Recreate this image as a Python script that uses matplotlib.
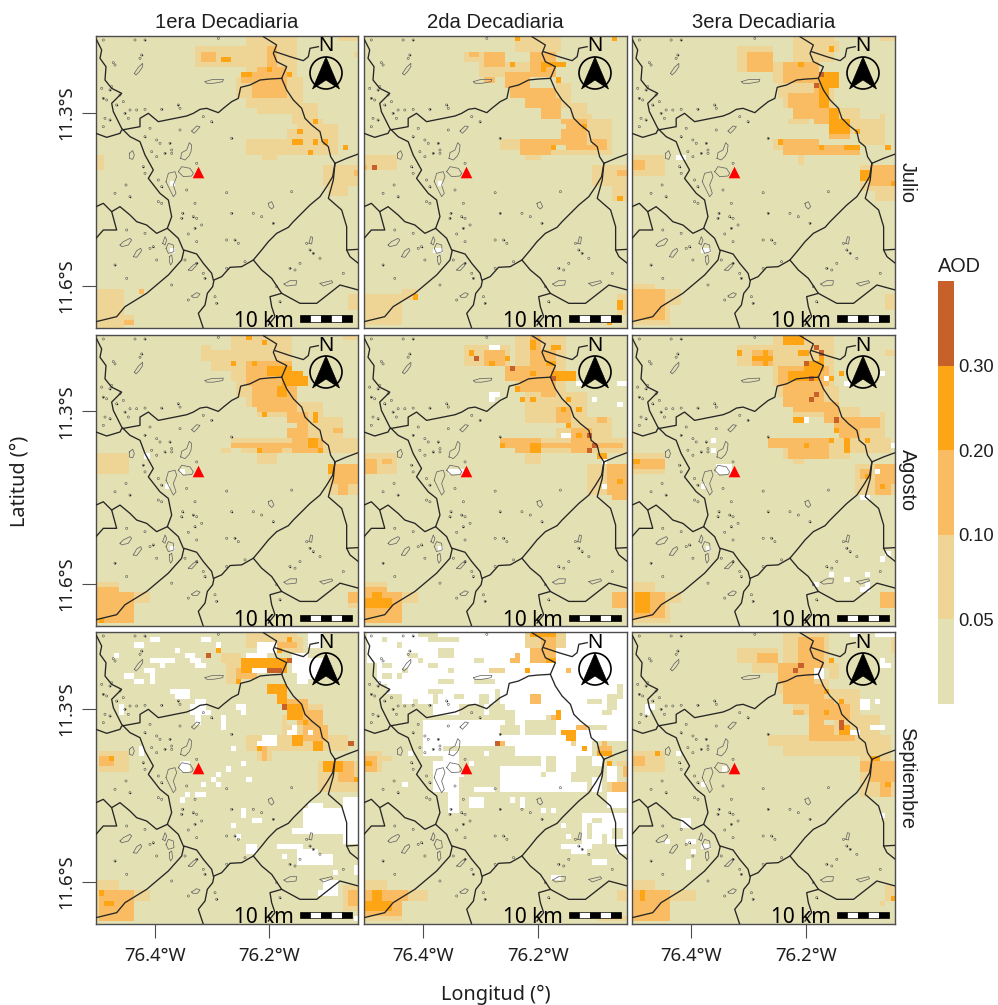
import numpy as np
import matplotlib
matplotlib.use("Agg")
import matplotlib.pyplot as plt
from matplotlib.colors import ListedColormap, BoundaryNorm
from matplotlib.colorbar import ColorbarBase
from matplotlib.patches import Polygon, Circle, Rectangle
from matplotlib.transforms import Affine2D

# ---- data ------------------------------------------------------------
DECADES = ["1era Decadiaria", "2da Decadiaria", "3era Decadiaria"]
MONTHS = ["Julio", "Agosto", "Septiembre"]
AOD_BOUNDS = [0.0, 0.05, 0.10, 0.20, 0.30, 0.40]
AOD_TICKS = [0.05, 0.10, 0.20, 0.30]
AOD_COLORS = ["#e3e0b3", "#eed596", "#f9bc62", "#fda514", "#c8602a"]
CLASS_VALUE = [0.03, 0.07, 0.15, 0.25, 0.35]
LON_TICKS = [-76.4, -76.2]
LON_LABELS = ["76.4°W", "76.2°W"]
LAT_TICKS = [-11.6, -11.3]
LAT_LABELS = ["11.6°S", "11.3°S"]

# AOD class regions on the 0.009 degree raster: (class, x0, x1, y0, y1), map units; class 9 = no data
JUL_1 = [(1,315,480,50,110),(1,470,620,20,135),(1,745,805,20,32),(1,790,805,65,80),(1,440,640,135,250),(1,600,680,220,290),
 (1,620,705,270,310),(1,590,750,280,375),(1,470,600,330,375),(1,515,560,375,390),(1,700,805,400,470),(1,715,780,470,495),
 (1,18,45,375,420),(1,18,100,780,895),(1,100,130,855,885),(1,775,805,790,840),
 (2,330,378,65,95),(2,495,590,110,150),(2,530,560,45,110),(2,450,500,125,150),(2,490,590,160,210),(2,100,130,870,885),(2,145,160,780,795),(2,790,805,420,435),
 (3,393,423,80,95),(3,455,485,125,140),(3,530,545,110,125),(3,590,605,125,140),(3,665,680,265,280),(3,620,635,297,312),(3,605,635,328,343),
 (3,665,680,328,343),(3,700,712,328,343),(3,650,665,360,375),(3,758,773,343,358),(9,238,250,452,467),(9,238,255,655,670)]
JUL_2 = [(1,310,440,65,95),(1,360,480,95,140),(1,465,600,20,65),(1,465,540,95,125),(1,585,640,155,230),(1,640,680,220,300),(1,680,755,250,370),
 (1,420,480,330,360),(1,480,700,360,375),(1,495,545,375,390),(1,13,110,375,420),(1,690,800,400,470),(1,755,800,470,515),(1,13,130,795,890),(1,130,175,780,810),(1,770,800,790,850),
 (2,325,360,65,80),(2,375,440,65,110),(2,510,590,65,140),(2,430,510,125,170),(2,445,590,170,205),(2,495,600,205,235),(2,540,605,235,265),(2,600,680,265,340),
 (2,620,700,340,360),(2,480,575,335,375),(2,575,640,325,345),(2,700,740,330,360),(2,770,800,420,435),(2,13,25,405,420),(2,370,400,145,160),
 (3,445,460,95,110),(3,540,555,95,125),(3,555,615,95,110),(3,585,600,140,155),(3,570,585,342,358),(3,665,678,282,296),(3,770,785,815,840),(3,770,785,500,515),
 (3,755,770,20,30),(3,155,170,795,805),(3,740,755,878,888),(3,465,480,20,30),(4,35,50,405,420),(9,233,246,452,467),(9,220,248,655,670)]
JUL_3 = [(1,325,440,50,125),(1,430,540,95,150),(1,500,620,20,100),(1,590,640,40,65),(1,760,800,25,35),(1,445,620,165,260),(1,480,540,260,275),(1,620,700,230,320),
 (1,700,770,250,345),(1,435,520,325,380),(1,510,700,360,375),(1,510,525,375,405),(1,14,110,375,435),(1,695,800,400,485),(1,735,800,470,510),(1,14,160,765,890),(1,775,800,795,840),
 (2,360,435,65,125),(2,465,570,95,150),(2,570,620,130,170),(2,480,570,185,260),(2,560,610,180,280),(2,600,665,280,330),(2,465,570,330,375),(2,570,700,340,375),
 (2,14,55,395,420),(2,14,110,780,875),(2,730,800,405,470),
 (3,510,525,95,110),(3,575,630,125,170),(3,570,600,170,240),(3,600,630,240,310),(3,630,660,260,310),(3,645,700,340,358),(3,445,460,330,343),(3,570,585,342,358),
 (3,770,785,342,358),(3,695,725,420,450),(3,785,800,452,467),(3,600,615,50,60),(3,675,690,295,310),(4,555,570,157,172),(4,570,585,125,140),(9,143,172,375,388),(9,220,248,655,668)]
AUG_1 = [(1,330,360,45,90),(1,360,470,60,130),(1,420,610,14,150),(1,440,620,130,260),(1,620,700,210,320),(1,700,760,260,320),(1,420,800,320,370),(1,395,420,350,365),
 (1,500,560,370,400),(1,710,800,400,490),(1,18,115,370,430),(1,18,175,755,885),(1,780,805,790,840),(1,760,805,14,25),
 (2,470,605,85,170),(2,480,620,170,240),(2,590,650,240,320),(2,420,600,335,350),(2,600,700,320,365),(2,520,580,350,370),(2,735,800,400,460),(2,740,775,460,490),
 (2,18,130,775,885),(2,728,760,290,305),(2,780,805,795,820),
 (3,530,605,100,135),(3,575,635,120,165),(3,560,590,165,195),(3,635,650,135,165),(3,425,437,88,103),(3,483,498,88,103),(3,515,530,25,40),(3,470,485,14,25),(3,515,530,243,258),
 (3,665,680,245,275),(3,650,682,320,350),(3,680,700,350,365),(3,500,515,350,365),(3,715,730,400,430),(3,20,40,865,885),
 (9,165,178,368,380),(9,270,285,415,430),(9,225,240,465,477),(9,238,255,650,662)]
AUG_2 = [(1,310,445,45,105),(1,460,610,14,190),(1,500,600,190,275),(1,600,680,180,260),(1,590,760,260,330),(1,420,800,320,370),(1,495,545,370,395),(1,680,800,400,490),
 (1,13,110,375,430),(1,13,175,755,885),(1,750,800,790,835),
 (2,370,440,60,105),(2,440,510,105,150),(2,510,545,20,60),(2,510,590,60,120),(2,480,570,120,190),(2,540,590,150,200),(2,590,640,235,300),(2,640,700,300,370),(2,420,700,335,355),
 (2,420,540,320,370),(2,700,780,340,355),(2,710,735,260,275),(2,13,50,385,430),(2,65,95,385,400),(2,13,130,770,885),(2,740,800,400,500),(2,755,800,470,505),(2,755,800,790,835),
 (3,510,525,25,60),(3,570,600,45,60),(3,560,585,85,105),(3,570,650,120,150),(3,325,340,60,72),(3,385,400,88,103),(3,430,445,72,88),(3,510,525,120,135),(3,465,480,165,180),
 (3,480,495,197,212),(3,510,525,197,212),(3,600,615,228,243),(3,615,630,197,212),(3,645,660,228,243),(3,615,630,275,290),(3,645,660,305,320),(3,510,540,340,370),(3,420,432,337,352),
 (3,710,735,368,385),(3,770,785,445,460),(3,13,90,805,835),(3,35,65,790,805),
 (4,340,355,72,88),(4,447,462,103,118),(4,570,585,135,148),(4,677,692,305,320),(4,677,692,352,368),(4,695,705,338,350),
 (9,388,418,42,55),(9,388,418,182,197),(9,388,400,197,212),(9,600,632,305,320),(9,645,662,150,165),(9,693,708,197,212),(9,768,798,150,165),(9,768,783,212,228),(9,725,738,385,395),
 (9,725,738,462,478),(9,265,305,413,430),(9,235,250,650,662)]
AUG_3 = [(1,325,450,50,105),(1,440,615,14,165),(1,450,630,165,260),(1,630,700,230,320),(1,700,770,245,350),(1,415,660,320,380),(1,660,790,320,365),(1,500,530,380,395),(1,680,800,400,495),
 (1,14,110,370,430),(1,14,160,755,885),(1,755,800,785,835),(1,770,800,55,70),
 (2,370,430,65,100),(2,450,600,100,170),(2,470,590,165,240),(2,590,640,220,300),(2,415,610,320,350),(2,480,600,350,380),(2,640,690,260,320),(2,700,750,245,290),(2,735,800,400,470),
 (2,740,790,470,490),(2,14,110,385,415),(2,14,110,790,870),(2,755,800,785,835),(2,700,730,415,445),
 (3,325,340,57,72),(3,400,420,57,72),(3,370,430,72,88),(3,400,415,88,103),(3,465,530,14,40),(3,510,540,57,72),(3,525,585,88,120),(3,480,570,120,150),(3,570,585,72,100),(3,600,615,135,150),
 (3,630,645,120,135),(3,495,525,260,275),(3,530,545,340,352),(3,600,615,320,335),(3,650,665,320,365),(3,710,725,320,335),(3,14,35,385,400),(3,20,75,790,855),(3,755,770,462,477),
 (3,710,725,430,445),(3,615,630,290,305),
 (4,525,540,88,103),(4,540,555,135,150),(4,555,570,180,195),(4,540,555,197,212),(4,617,632,260,275),(4,557,570,40,55),(4,570,585,57,72),
 (9,588,600,135,150),(9,648,663,150,165),(9,755,770,120,135),(9,525,540,260,275),(9,250,265,322,337),(9,250,265,352,367),(9,265,305,405,430),(9,220,235,462,477),(9,738,752,415,430),
 (9,785,800,338,352),(9,693,722,492,507),(9,235,250,650,662),(9,755,770,680,695),(9,770,785,665,678),(9,600,615,727,742),(9,645,662,742,757),(9,708,722,727,742),(9,708,722,757,788),
 (9,693,708,772,788),(9,555,570,757,772)]
SEP_1 = [(1,470,630,14,60),(1,560,640,30,75),(1,640,700,225,320),(1,700,745,240,260),(1,470,780,320,370),(1,580,700,260,340),(1,500,540,370,400),(1,20,115,370,430),(1,690,805,400,500),
 (1,18,180,755,885),(1,760,805,780,850),(1,405,450,70,165),(1,390,405,70,100),
 (2,660,695,240,290),(2,590,650,220,300),(2,510,530,350,400),(2,20,75,385,415),(2,20,140,790,880),(2,740,790,400,470),(2,770,805,790,830),(2,640,720,290,340),(2,560,620,40,60),(2,440,500,115,150),
 (3,455,590,90,135),(3,530,590,165,200),(3,560,590,200,225),(3,590,635,230,270),(3,635,650,270,300),(3,605,635,320,350),(3,670,705,335,365),(3,695,760,400,430),(3,380,392,58,72),
 (3,440,450,150,165),(3,560,580,55,72),(3,590,605,25,40),(3,605,620,120,135),(3,55,70,385,400),(3,20,40,790,805),(3,40,70,820,835),(3,500,515,350,365),(3,790,805,445,460),(3,20,70,880,888),
 (4,345,360,72,88),(4,530,575,120,135),(4,590,605,88,103),(4,575,590,228,243),(4,773,788,337,352),
 (9,130,160,42,57),(9,180,210,25,40),(9,180,195,40,50),(9,330,360,25,40),(9,375,390,42,57),(9,255,270,57,72),(9,70,85,72,85),(9,180,255,88,103),(9,285,315,72,88),(9,300,330,88,103),
 (9,315,345,105,118),(9,210,225,103,118),(9,165,195,118,133),(9,100,130,135,148),(9,130,160,150,165),(9,180,192,135,165),(9,240,300,182,197),(9,255,300,197,212),(9,315,345,212,228),
 (9,300,345,228,243),(9,440,465,228,243),(9,450,465,243,258),(9,300,360,243,258),(9,315,330,258,288),(9,390,405,258,303),(9,85,100,228,258),(9,470,530,72,88),(9,500,560,40,72),
 (9,485,530,118,133),(9,600,650,72,135),(9,650,700,88,150),(9,650,700,14,60),(9,625,650,135,165),(9,520,560,320,350),(9,500,530,335,350),(9,590,620,305,320),(9,605,630,290,305),
 (9,650,665,305,320),(9,420,435,352,367),(9,405,420,415,430),(9,450,465,400,415),(9,375,390,430,445),(9,360,375,445,460),(9,375,390,460,475),(9,330,345,462,477),(9,467,482,445,460),
 (9,315,345,492,507),(9,285,300,492,507),(9,270,285,508,523),(9,452,467,540,570),(9,485,515,570,585),(9,420,435,585,600),(9,435,450,615,630),(9,467,497,650,680),(9,650,700,525,540),
 (9,635,765,540,600),(9,765,805,510,650),(9,605,680,600,615),(9,680,760,600,620),(9,560,640,648,663),(9,620,690,665,710),(9,690,725,680,710),(9,575,590,680,695),(9,785,805,710,740),
 (9,730,745,725,740),(9,700,745,755,800),(9,680,715,785,810),(9,790,805,860,885),(9,150,165,350,380),(9,268,305,405,430)]
SEP_2 = [(9,20,520,14,230),(9,130,450,230,260),(9,520,800,100,200),(9,580,800,14,345),(9,450,720,200,270),(9,190,700,270,380),(9,380,720,380,420),(9,420,680,420,500),(9,660,800,560,650),
 (0,13,50,100,260),(0,50,80,165,260),(0,80,130,200,260),(0,13,150,260,400),(0,150,190,260,300),(0,65,80,25,45),(0,110,125,40,57),(0,205,300,25,42),(0,175,230,14,30),(0,235,285,57,88),
 (0,145,175,72,88),(0,175,195,88,103),(0,200,235,103,118),(0,70,100,103,118),(0,125,145,118,133),(0,265,285,118,133),(0,335,365,88,105),(0,65,95,135,150),(0,110,125,135,150),
 (0,235,280,150,165),(0,335,400,150,165),(0,205,250,182,197),(0,280,310,197,212),(0,350,365,195,230),(0,370,385,197,228),(0,220,235,197,228),(0,155,175,212,228),(0,400,420,180,228),
 (0,130,220,228,272),(0,295,380,228,265),(0,385,430,230,260),(0,415,460,245,270),(0,430,460,270,290),(0,500,590,275,320),(0,560,590,260,275),(0,525,555,320,330),(0,420,480,290,320),
 (0,370,460,350,420),(0,250,420,350,490),(0,430,540,380,420),(0,540,560,430,445),(0,560,590,385,430),(0,650,700,385,430),(0,630,690,440,460),(0,680,735,290,305),(0,680,720,220,235),
 (0,740,770,200,240),(0,770,785,170,215),(0,720,750,250,265),(0,480,510,500,520),
 (9,145,160,372,387),(9,130,145,462,477),(9,300,315,440,455),(9,330,345,400,415),(9,370,385,370,385),(9,250,300,370,400),(9,220,300,400,490),(9,265,295,490,550),(9,340,400,475,490),
 (9,320,370,510,535),(9,575,590,540,555),(9,540,555,540,555),(9,450,465,505,520),(9,480,495,510,535),(9,740,770,415,460),(9,690,720,450,490),(9,740,800,500,545),(9,600,615,590,600),
 (9,615,640,618,632),(9,600,690,650,665),(9,632,680,665,680),(9,690,738,695,710),(9,575,600,742,757),(9,770,800,650,680),(9,740,755,600,615),
 (0,700,730,570,590),(0,750,780,610,640),(0,680,700,590,640),(0,720,740,620,650),
 (1,495,615,14,60),(2,510,590,55,110),(3,510,585,14,30),(2,545,585,30,60),(2,615,630,120,133),(2,450,480,88,103),(2,465,480,72,88),(3,555,585,88,103),(1,390,430,118,135),(3,495,510,118,133),
 (2,510,540,197,228),(3,585,600,243,273),(2,570,585,258,273),(3,600,645,305,322),(3,615,645,322,338),(2,645,680,290,305),(1,632,645,338,350),(4,403,417,337,352),(2,417,432,337,352),
 (3,660,675,352,367),(2,720,735,337,367),(2,708,750,352,367),(3,708,752,367,382),(3,738,752,400,415),(1,770,800,400,415),(1,740,800,460,500),(2,755,800,462,490),(2,785,800,415,445),
 (1,770,800,785,820),(1,13,65,368,430),(2,13,50,385,430),(3,13,35,400,415),(1,65,95,385,400),(1,13,200,755,885),(2,13,140,785,865),(3,30,70,790,850),(3,13,90,820,850),(1,710,800,870,885)]
SEP_3 = [(1,330,450,55,110),(1,380,470,100,135),(1,465,610,14,125),(1,600,640,100,150),(1,445,610,150,260),(1,610,700,180,320),(1,700,760,245,340),(1,420,700,320,380),(1,700,780,320,400),
 (1,490,550,365,380),(1,695,800,400,505),(1,14,110,368,430),(1,14,200,755,885),(1,755,770,820,832),(1,785,800,25,70),(1,770,800,770,820),
 (2,390,450,72,103),(2,450,560,103,165),(2,510,590,30,130),(2,470,590,165,230),(2,545,620,210,320),(2,495,525,243,258),(2,540,600,305,335),(2,600,680,320,345),(2,14,50,385,415),
 (2,730,800,400,470),(2,755,785,470,505),(2,14,130,785,880),(2,620,660,230,280),(2,700,730,395,430),
 (3,600,615,88,103),(3,590,600,180,195),(3,632,647,212,228),(3,585,600,243,258),(3,632,662,305,320),(3,650,665,290,305),(3,82,97,368,383),(3,35,50,790,820),(3,785,800,805,820),
 (3,770,785,462,477),(3,725,755,385,400),(4,510,525,103,118),(4,495,510,118,133),(4,632,647,275,305),
 (9,660,690,14,25),(9,740,800,14,25),(9,755,770,88,103),(9,755,785,103,118),(9,555,585,118,150),(9,693,722,212,243),(9,740,755,212,228),(9,725,770,290,305),(9,662,690,305,320),
 (9,50,65,228,258),(9,65,80,228,243),(9,143,158,368,383),(9,280,298,415,430),(9,220,235,462,477),(9,755,770,555,570),(9,160,190,575,600),(9,175,205,632,647),(9,115,130,632,647),
 (9,190,205,665,680),(9,175,190,695,727),(9,225,248,650,662)]
# low-AOD areas the plume edges do not reach in any panel: (x0, x1, y0, y1)
PLUME_EDGES = [(430,470,205,265),(430,500,235,265),(85,205,750,782),(135,205,825,895),(590,620,282,298),(700,760,250,265),(420,460,355,380)]

# map vector layers, same local map units
ROADS = [
 [(20,30),(35,60),(30,85),(48,110),(45,150),(65,175),(95,190),(65,220),(70,245),(95,295),(120,320),(150,335),(165,375),(190,420),(175,445),(210,490),(235,510),(245,560),(232,595),(265,625),(280,660)],
 [(18,310),(50,322),(90,310),(95,300),(150,290),(150,265),(175,250),(205,275),(240,268),(290,258),(310,250),(330,238),(350,235),(385,248),(400,235),(425,215),(445,205),(452,172),(480,165),(510,150),(540,147),(575,145)],
 [(520,20),(560,45),(550,70),(560,95),(590,110),(575,145)],
 [(555,65),(600,80),(640,92),(655,80),(660,55),(685,50)],
 [(575,145),(590,180),(610,210),(635,235),(645,265),(665,285),(690,305),(697,335),(715,350),(722,380),(735,400)],
 [(735,400),(770,385),(805,372)],
 [(735,400),(728,440),(710,470),(690,500),(660,525),(630,555),(610,575),(595,592),(560,610),(535,635),(515,660),(490,690),(455,710),(420,712),(395,740),(372,750),(368,770),(352,790),(345,825),(325,850),(340,895)],
 [(735,400),(730,450),(715,505),(755,540),(770,590),(770,660),(805,658)],
 [(770,660),(780,680),(805,700)],
 [(490,690),(515,720),(545,745),(575,790),(630,820),(680,820),(750,765),(805,780)],
 [(575,790),(540,800),(545,830),(555,860),(535,885)],
 [(18,875),(80,860),(105,830),(170,790),(235,735),(275,690),(282,660),(320,672),(340,700),(365,730),(370,750)],
 [(18,530),(40,520),(65,545),(90,530),(120,555),(140,575),(170,585),(200,610),(232,595)],
 [(65,545),(80,600),(70,600),(40,600),(18,625)],
]
LAKES = [
 [(345,155),(365,149),(400,148),(398,155),(370,160),(350,160)],
 [(133,130),(145,112),(158,100),(158,110),(148,125),(138,135)],
 [(272,385),(275,368),(290,360),(298,338),(305,345),(303,365),(297,378),(285,390)],
 [(265,425),(275,410),(300,415),(310,430),(305,438),(280,440)],
 [(228,455),(235,430),(255,425),(260,440),(250,465),(258,490),(250,500),(240,480)],
 [(305,303),(320,288),(330,290),(322,300),(312,310)],
 [(90,645),(100,635),(120,625),(125,630),(115,645),(95,650)],
 [(130,680),(140,662),(152,655),(155,662),(140,682)],
 [(238,680),(245,675),(248,695),(242,705),(238,695)],
 [(228,655),(235,640),(250,645),(252,665),(235,670)],
 [(582,762),(600,752),(620,752),(618,765),(590,768)],
 [(690,760),(725,752),(728,758),(700,768)],
 [(118,370),(128,362),(133,375),(128,388),(118,385)],
 [(535,520),(545,515),(552,530),(545,537),(537,530)],
 [(218,640),(225,620),(230,630),(225,645)],
 [(657,640),(662,620),(668,622),(665,642)],
 [(295,720),(310,705),(322,698),(318,708),(305,722)],
 [(305,798),(320,788),(330,792),(322,802),(308,802)],
]
PONDS_X = [40,50,45,60,40,120,105,140,165,215,75,70,155,150,135,165,35,65,60,90,100,80,115,180,165,200,210,240,245,185,225,200,245,160,165,205,215,75,108,120,215,205,278,290,315,310,320,335,315,295,320,365,340,270,265,270,410,425,490,515,550,605,410,435,445,320,275,110,165,190,180,200,75,110,245,345,340,285,320,295,375,380,465,410,600,615,630,670,690,650,660,760,560,570,385,40,425]
PONDS_Y = [205,210,265,270,290,240,250,240,238,238,105,98,75,85,30,30,175,170,180,195,215,225,265,295,320,330,340,340,360,365,370,380,370,410,430,450,470,490,465,500,520,515,550,480,520,560,565,585,595,612,635,275,260,300,225,235,488,550,550,560,580,485,630,630,640,400,565,600,610,650,655,690,705,745,765,745,730,690,700,810,800,820,695,715,715,720,700,670,685,640,660,730,770,815,25,30,325]
STATION_X = [323]
STATION_Y = [427]

PANELS = [[JUL_1, JUL_2, JUL_3], [AUG_1, AUG_2, AUG_3], [SEP_1, SEP_2, SEP_3]]
ORIGIN_X = [18, 13, 14]      # where each column's region coordinates start
ORIGIN_Y = [18, 14, 14]

# ---- layout ----------------------------------------------------------
W, H = 998, 1005
COL_PX = [(96, 358), (364, 627), (632, 895)]
ROW_PX = [(36, 328), (335, 626), (632, 924)]
LON_W, KX = -76.5035, 1 / 3 / 570.0
LAT_N, KY = -11.1673, 1 / 3 / 577.8
LON_E = LON_W + 262 / 570.0
LAT_S = LAT_N - 292 / 577.8
FS, FT = "Noto Sans", "Liberation Sans"
INK = "#1f1f1f"


def lon(x):
    return LON_W + (np.asarray(x, float) - 18) * KX


def lat(y):
    return LAT_N - (np.asarray(y, float) - 18) * KY


def raster(regions, ox, oy):
    nx, ny = 53, 58
    cx = ox + 15.3 * np.arange(nx)
    cy = oy + 15.5 * (np.arange(ny) + 0.5)
    grid = np.full((ny, nx), CLASS_VALUE[0])
    for cls, x0, x1, y0, y1 in regions:
        mx = (cx >= x0) & (cx < x1)
        my = (cy >= y0) & (cy < y1)
        grid[np.ix_(my, mx)] = np.nan if cls == 9 else CLASS_VALUE[cls]
    for x0, x1, y0, y1 in PLUME_EDGES:
        mx = (cx >= x0) & (cx < x1)
        my = (cy >= y0) & (cy < y1)
        sub = grid[np.ix_(my, mx)]
        sub[(sub == CLASS_VALUE[1]) | (sub == CLASS_VALUE[2])] = CLASS_VALUE[0]
        grid[np.ix_(my, mx)] = sub
    return grid


cmap = ListedColormap(AOD_COLORS)
norm = BoundaryNorm(AOD_BOUNDS, cmap.N)
xe = LON_W + (-7.6 + 15.3 * np.arange(54)) * KX
ye = LAT_N - 15.5 * np.arange(59) * KY

fig = plt.figure(figsize=(W / 100, H / 100), dpi=100, facecolor="white")

for r, (top, bot) in enumerate(ROW_PX):
    for c, (lft, rgt) in enumerate(COL_PX):
        ax = fig.add_axes([lft / W, 1 - bot / H, (rgt - lft) / W, (bot - top) / H])
        pw, ph = rgt - lft, bot - top
        ax.pcolormesh(xe, ye, np.ma.masked_invalid(raster(PANELS[r][c], ORIGIN_X[c], ORIGIN_Y[r])),
                      cmap=cmap, norm=norm, shading="flat", zorder=1)
        for lake in LAKES:
            pts = np.array(lake + lake[:1])
            ax.plot(lon(pts[:, 0]), lat(pts[:, 1]), color="#666666", lw=0.55, zorder=2)
        ax.scatter(lon(PONDS_X), lat(PONDS_Y), s=2.4, facecolors="none", edgecolors="#555555", linewidths=0.4, zorder=2)
        ax.scatter(lon(PONDS_X[::3]), lat(PONDS_Y[::3]), s=1.0, color="#222222", linewidths=0, zorder=2)
        for road in ROADS:
            pts = np.array(road)
            ax.plot(lon(pts[:, 0]), lat(pts[:, 1]), color="#262626", lw=0.95, solid_joinstyle="round", zorder=3)
        ax.scatter(lon(STATION_X), lat(STATION_Y), marker="^", s=70, color="#ff0000", linewidths=0, zorder=4)
        ax.set_xlim(LON_W, LON_E)
        ax.set_ylim(LAT_S, LAT_N)
        for s in ax.spines.values():
            s.set_color("#4d4d4d")
            s.set_linewidth(1.0)
        ax.set_xticks(LON_TICKS if r == 2 else [])
        ax.set_yticks(LAT_TICKS if c == 0 else [])
        if r == 2:
            ax.set_xticklabels(LON_LABELS, fontfamily=FS, fontsize=13.3, color=INK)
            ax.tick_params(axis="x", length=10, width=0.8, color="#4d4d4d", pad=6.5)
        if c == 0:
            ax.set_yticklabels(LAT_LABELS, fontfamily=FS, fontsize=13.3, color=INK, rotation=90, va="center")
            ax.tick_params(axis="y", length=10, width=0.8, color="#4d4d4d", pad=5)

        # north arrow and scale bar, placed in panel pixels
        tx = lambda px: px / pw
        ty = lambda py: 1 - py / ph
        cxp, cyp = pw - 32, 37
        ax.add_patch(Circle((cxp, ph - cyp), 16, transform=Affine2D().translate(lft, H - bot),
                            fill=False, ec="black", lw=1.2, zorder=6, clip_on=False))
        ax.add_patch(Polygon([(tx(cxp), ty(21)), (tx(cxp + 13.5), ty(53)), (tx(cxp), ty(44)), (tx(cxp - 13.5), ty(53))],
                             closed=True, transform=ax.transAxes, fc="black", ec="black", lw=0.5, zorder=7))
        ax.text(tx(cxp), ty(10), "N", transform=ax.transAxes, ha="center", va="center", fontfamily=FT, fontsize=15, color="black", zorder=7)
        ax.text(tx(pw - 94), ty(285.5), "10 km", transform=ax.transAxes, ha="center", va="center", fontfamily=FS, fontsize=15, color="black", zorder=7)
        seg = 52.4 / 5
        for i in range(5):
            ax.add_patch(Rectangle((tx(pw - 58 + i * seg), ty(286)), seg / pw, 6.5 / ph, transform=ax.transAxes,
                                   fc="black" if i % 2 == 0 else "white", ec="black", lw=0.5, zorder=7))

        if r == 0:
            fig.text((lft + rgt) / 2 / W, 1 - 23 / H, DECADES[c], ha="center", va="center", fontfamily=FT, fontsize=14.6, color=INK)
        if c == 2:
            fig.text(907 / W, 1 - (top + bot) / 2 / H, MONTHS[r], ha="center", va="center", rotation=-90, fontfamily=FT, fontsize=14.3, color=INK)

cax = fig.add_axes([938 / W, 1 - 704 / H, 16 / W, 423 / H])
cb = ColorbarBase(cax, cmap=cmap, norm=norm, spacing="uniform", ticks=AOD_TICKS, format="%.2f", drawedges=False)
cb.outline.set_visible(False)
cb.minorticks_off()
cb.ax.tick_params(length=0, pad=3, labelsize=13.2, colors=INK)
cb.ax.tick_params(which="minor", length=0)
for t in cb.ax.get_yticklabels():
    t.set_fontfamily(FT)
fig.text(938 / W, 1 - 266 / H, "AOD", ha="left", va="center", fontfamily=FT, fontsize=14.3, color=INK)
fig.text(496 / W, 1 - 995 / H, "Longitud (°)", ha="center", va="center", fontfamily=FS, fontsize=14.3, color=INK)
fig.text(20 / W, 1 - 481 / H, "Latitud (°)", ha="center", va="center", rotation=90, fontfamily=FS, fontsize=14.3, color=INK)

fig.savefig("out.png", dpi=100, facecolor="white")
